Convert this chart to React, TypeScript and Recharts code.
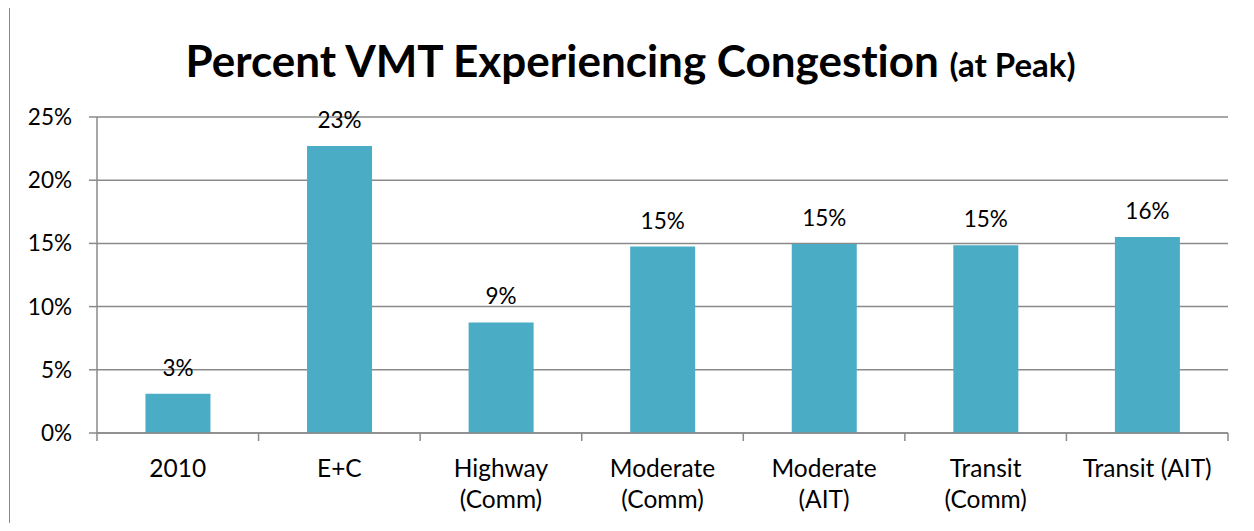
import { Bar, BarChart, CartesianGrid, LabelList, XAxis, YAxis } from "recharts"

const categories = ["2010", "E+C", "Highway\n(Comm)", "Moderate\n(Comm)", "Moderate\n(AIT)", "Transit\n(Comm)", "Transit (AIT)"]
const congestion = [3.1, 22.7, 8.75, 14.75, 14.95, 14.85, 15.5]
const yTicks = [0, 5, 10, 15, 20, 25]

const data = categories.map((name, i) => ({ name, value: congestion[i] }))

const FONT = "Lato, 'Open Sans', sans-serif"
const GRAY = "#8a8a8a"
const W = 1254
const H = 531
const LEFT = 97
const RIGHT = 26
const BAND = (W - LEFT - RIGHT) / categories.length

function CategoryTick(props: any) {
  const { x, y, payload, index } = props
  const lines = String(payload.value).split("\n")
  const top = y - 8
  return (
    <g>
      <line x1={x - BAND / 2} y1={top} x2={x - BAND / 2} y2={top + 8} stroke={GRAY} strokeWidth={1.5} />
      {index === categories.length - 1 && (
        <line x1={x + BAND / 2} y1={top} x2={x + BAND / 2} y2={top + 8} stroke={GRAY} strokeWidth={1.5} />
      )}
      <text x={x} y={top + 44} textAnchor="middle" fontFamily={FONT} fontSize={24.5} fill="#000">
        {lines.map((l, i) => (
          <tspan key={i} x={x} dy={i === 0 ? 0 : 31}>
            {l}
          </tspan>
        ))}
      </text>
    </g>
  )
}

export default function App() {
  return (
    <div style={{ position: "relative", width: W, height: H, margin: -8, overflow: "hidden", background: "#fff" }}>
      <div
        style={{
          position: "absolute",
          left: 9,
          top: 4,
          width: W + 20,
          height: H + 20,
          border: "1.5px solid #8a8a8a",
          boxSizing: "border-box",
        }}
      />
      <div
        style={{
          position: "absolute",
          left: 0,
          width: W + 7,
          top: 30,
          textAlign: "center",
          fontFamily: FONT,
          fontWeight: 700,
          fontSize: 44,
          lineHeight: "60px",
          color: "#000",
          whiteSpace: "nowrap",
          fontVariantLigatures: "none",
        }}
      >
        Percent VMT Experiencing Congestion <span style={{ fontSize: 33 }}>(at Peak)</span>
      </div>
      <div style={{ position: "absolute", left: 0, top: 0 }}>
        <BarChart
          width={W}
          height={H}
          data={data}
          margin={{ top: 117, right: RIGHT, bottom: 0, left: 0 }}
          barCategoryGap="30%"
        >
          <CartesianGrid vertical={false} stroke={GRAY} strokeWidth={1.5} />
          <XAxis
            dataKey="name"
            height={98}
            interval={0}
            tickLine={false}
            axisLine={{ stroke: GRAY, strokeWidth: 1.5 }}
            tick={<CategoryTick />}
          />
          <YAxis
            width={LEFT}
            domain={[0, 25]}
            ticks={yTicks}
            tickFormatter={(v) => `${v}%`}
            tickSize={8}
            tickMargin={17}
            tickLine={{ stroke: GRAY, strokeWidth: 1.5 }}
            axisLine={{ stroke: GRAY, strokeWidth: 1.5 }}
            tick={{ fill: "#000", fontFamily: FONT, fontSize: 22.5 }}
          />
          <Bar dataKey="value" fill="#4BACC6" isAnimationActive={false}>
            <LabelList
              dataKey="value"
              position="top"
              offset={18}
              formatter={(v: any) => `${Math.round(Number(v))}%`}
              style={{ fill: "#000", fontFamily: FONT, fontSize: 22.5 }}
            />
          </Bar>
        </BarChart>
      </div>
    </div>
  )
}
